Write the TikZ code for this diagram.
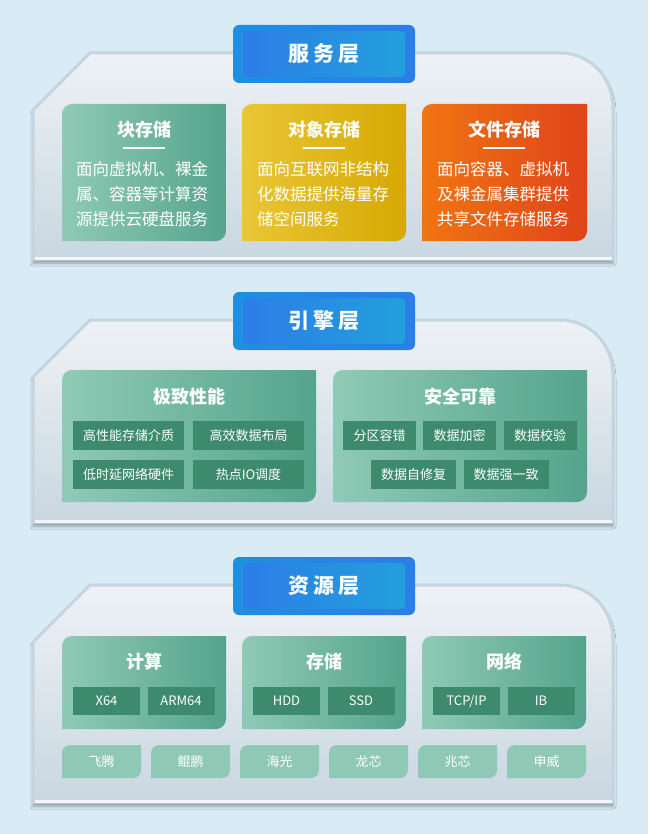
\documentclass[tikz,border=0pt]{standalone}
\usepackage{fontspec}
\setmainfont{Noto Sans CJK SC}
\usetikzlibrary{shadows.blur}

\definecolor{bg}{HTML}{D9EBF5}
\definecolor{panelA}{HTML}{EEF2F6}
\definecolor{panelB}{HTML}{C9D7E1}
\definecolor{panelline}{HTML}{C6D4DF}
\definecolor{panelfoot}{HTML}{F2F6F9}
\definecolor{tabA}{HTML}{1E90DF}
\definecolor{tabB}{HTML}{2C7DE8}
\definecolor{tabC}{HTML}{22A0DB}
\definecolor{greenA}{HTML}{8FCAB6}
\definecolor{greenB}{HTML}{55A48B}
\definecolor{yellowA}{HTML}{EAC636}
\definecolor{yellowB}{HTML}{D6A902}
\definecolor{orangeA}{HTML}{F07512}
\definecolor{orangeB}{HTML}{E0441A}
\definecolor{itemgreen}{HTML}{3D8A6F}
\definecolor{chipgreen}{HTML}{8FC8B5}

% card outline: top left and bottom right corners rounded
\newcommand\cardpath[5]{(#1,#2+#5) .. controls (#1,#2+0.45*#5) and (#1+0.45*#5,#2) .. (#1+#5,#2)
  -- (#3,#2) -- (#3,#4-#5) .. controls (#3,#4-0.45*#5) and (#3-0.45*#5,#4) .. (#3-#5,#4)
  -- (#1,#4) -- cycle}
% layer outline: cut corner at left, round corner at right
\newcommand\panelpath[2]{(33,#1+57) -- (90,#1) -- (560,#1)
  .. controls (590,#1) and (613,#1+24) .. (613,#1+55) -- (613,#2) -- (33,#2) -- cycle}

\begin{document}
\begin{tikzpicture}[x=1pt, y=-1pt,
    every node/.style={text=white, inner sep=0pt},
    panel/.style={draw=panelline, line width=3pt, top color=panelA, bottom color=panelB,
      blur shadow={shadow xshift=0pt, shadow yshift=-4pt, shadow blur radius=3pt, shadow opacity=35}},
    tabout/.style={rounded corners=6pt, minimum width=182pt, minimum height=58pt,
      left color=tabA, right color=tabB},
    tabin/.style={rounded corners=4pt, minimum width=162pt, minimum height=46pt,
      left color=tabB, right color=tabC, font=\fontsize{21}{21}\selectfont\bfseries},
    ctitle/.style={font=\fontsize{18}{18}\selectfont\bfseries},
    ctext/.style={anchor=west, align=left, font=\fontsize{16.5}{25}\selectfont},
    item/.style={fill=itemgreen, minimum height=29pt, font=\fontsize{13}{13}\selectfont},
    chip/.style={font=\fontsize{13}{13}\selectfont}]

  \fill[bg] (0,0) rectangle (648,834);
  \useasboundingbox (0,0) rectangle (648,834);

  % layers
  \foreach \t/\b in {53/259, 320/522, 585/802} {
    \path[panel] \panelpath{\t}{\b};
    \draw[panelfoot, line width=2.5pt] (34.5,\b-0.5) -- (611.5,\b-0.5);
  }

  % ---- service layer
  \shade[left color=greenA, right color=greenB] \cardpath{62}{104}{226}{241}{10};
  \shade[left color=yellowA, right color=yellowB] \cardpath{242}{104}{406}{241}{10};
  \shade[left color=orangeA, right color=orangeB] \cardpath{422}{104}{587}{241}{10};
  \foreach \x in {144, 324, 504}
    \draw[white, line width=2.5pt] (\x-21,148) -- (\x+21,148);
  \node[ctitle] (block) at (144,130) {块存储};
  \node[ctitle] (object) at (324,130) {对象存储};
  \node[ctitle] (file) at (504,130) {文件存储};
  \node[ctext] (blocktxt) at (76,194) {面向虚拟机、裸金\\属、容器等计算资\\源提供云硬盘服务};
  \node[ctext] (objecttxt) at (257,194) {面向互联网非结构\\化数据提供海量存\\储空间服务};
  \node[ctext] (filetxt) at (437,194) {面向容器、虚拟机\\及裸金属集群提供\\共享文件存储服务};

  % ---- engine layer
  \shade[left color=greenA, right color=greenB] \cardpath{62}{370}{316}{502}{10};
  \shade[left color=greenA, right color=greenB] \cardpath{333}{370}{587}{502}{10};
  \node[ctitle] (perf) at (189,397) {极致性能};
  \node[ctitle] (safe) at (460,397) {安全可靠};
  \node[item, minimum width=111pt] (perf1) at (128.5,435.5) {高性能存储介质};
  \node[item, minimum width=111pt] (perf2) at (248.5,435.5) {高效数据布局};
  \node[item, minimum width=111pt] (perf3) at (128.5,474.5) {低时延网络硬件};
  \node[item, minimum width=111pt] (perf4) at (248.5,474.5) {热点IO调度};
  \node[item, minimum width=73pt] (safe1) at (379.5,435.5) {分区容错};
  \node[item, minimum width=73pt] (safe2) at (459.5,435.5) {数据加密};
  \node[item, minimum width=73pt] (safe3) at (540,435.5) {数据校验};
  \node[item, minimum width=85pt] (safe4) at (413.5,474.5) {数据自修复};
  \node[item, minimum width=85pt] (safe5) at (506,474.5) {数据强一致};

  % ---- resource layer
  \foreach \x in {62, 242, 422}
    \shade[left color=greenA, right color=greenB] \cardpath{\x}{636}{\x+164}{729}{10};
  \node[ctitle] (compute) at (144,662) {计算};
  \node[ctitle] (storage) at (324,662) {存储};
  \node[ctitle] (network) at (504,662) {网络};
  \node[item, minimum width=67pt, minimum height=28pt] (x64) at (106.5,701) {X64};
  \node[item, minimum width=67pt, minimum height=28pt] (arm) at (181,701) {ARM64};
  \node[item, minimum width=67pt, minimum height=28pt] (hdd) at (286.5,701) {HDD};
  \node[item, minimum width=67pt, minimum height=28pt] (ssd) at (361,701) {SSD};
  \node[item, minimum width=67pt, minimum height=28pt] (tcp) at (466.5,701) {TCP/IP};
  \node[item, minimum width=67pt, minimum height=28pt] (ib) at (541,701) {IB};
  \foreach \i/\t in {0/飞腾, 1/鲲鹏, 2/海光, 3/龙芯, 4/兆芯, 5/申威} {
    \fill[chipgreen] \cardpath{62+89*\i}{745}{141+89*\i}{778}{8};
    \node[chip] (chip\i) at (101.5+89*\i,761.5) {\t};
  }

  % layer tabs
  \foreach \y/\n/\t in {54/svc/服\hspace{4pt}务\hspace{4pt}层, 321/eng/引\hspace{4pt}擎\hspace{4pt}层, 586/res/资\hspace{4pt}源\hspace{4pt}层} {
    \node[tabout] (\n box) at (324,\y) {};
    \node[tabin] (\n) at (\n box) {\t};
  }
\end{tikzpicture}
\end{document}
